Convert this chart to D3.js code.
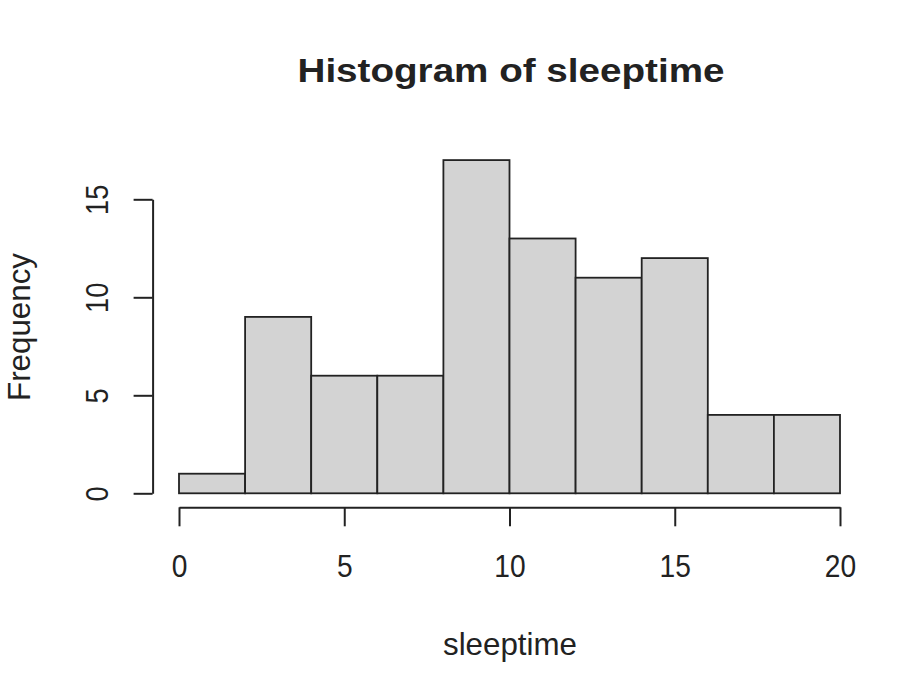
<!DOCTYPE html>
<html>
<head>
<meta charset="utf-8">
<script src="https://cdn.jsdelivr.net/npm/d3@7"></script>
<style>
  body { margin: 0; background: #fff; }
  text { font-family: "Liberation Sans", Arial, sans-serif; fill: #222; }
</style>
</head>
<body>
<svg id="chart" width="907" height="679"></svg>
<script>
// histogram bins of sleeptime (R hist, breaks of 2)
const binStarts = [0, 2, 4, 6, 8, 10, 12, 14, 16, 18];
const binEnds = [2, 4, 6, 8, 10, 12, 14, 16, 18, 20];
const counts = [1, 9, 6, 6, 17, 13, 11, 12, 4, 4];
const xTicks = [0, 5, 10, 15, 20];
const yTicks = [0, 5, 10, 15];

const svg = d3.select("#chart");

const x = d3.scaleLinear().domain([0, 20]).range([179, 840]);
const y = d3.scaleLinear().domain([0, 15]).range([493.3, 199.3]);

// title
svg.append("text")
    .attr("x", 511).attr("y", 82)
    .attr("text-anchor", "middle")
    .style("font-size", "34px").style("font-weight", "bold")
    .attr("textLength", 427).attr("lengthAdjust", "spacingAndGlyphs")
    .text("Histogram of sleeptime");

// bars
svg.append("g").selectAll("rect")
    .data(counts)
    .join("rect")
    .attr("x", (d, i) => x(binStarts[i]))
    .attr("width", (d, i) => x(binEnds[i]) - x(binStarts[i]))
    .attr("y", d => y(d))
    .attr("height", d => y(0) - y(d))
    .attr("fill", "#d3d3d3")
    .attr("stroke", "#222")
    .attr("stroke-width", 1.8);

// x axis at bottom of plot region
const xAxis = svg.append("g")
    .attr("transform", "translate(0,507.3)")
    .call(d3.axisBottom(x).tickValues(xTicks).tickSize(19).tickSizeOuter(0));
xAxis.selectAll("path, line").attr("stroke", "#222").attr("stroke-width", 2);
xAxis.selectAll("text")
    .style("font-size", "32px")
    .attr("dy", 0).attr("y", 70)
    .attr("transform", "scale(0.88,1)");

// y axis at left of plot region
const yAxis = svg.append("g")
    .attr("transform", "translate(152.6,0)")
    .call(d3.axisLeft(y).tickValues(yTicks).tickSize(19).tickSizeOuter(0));
yAxis.selectAll("path, line").attr("stroke", "#222").attr("stroke-width", 2);
yAxis.selectAll("text")
    .style("font-size", "31px")
    .attr("transform", "rotate(-90) scale(0.88,1)")
    .attr("x", 0).attr("dy", 0).attr("y", -45)
    .attr("text-anchor", "middle");

// axis titles
svg.append("text")
    .attr("x", 510).attr("y", 655)
    .attr("text-anchor", "middle")
    .style("font-size", "32px")
    .attr("textLength", 134).attr("lengthAdjust", "spacingAndGlyphs")
    .text("sleeptime");

svg.append("text")
    .attr("transform", "translate(30,327) rotate(-90)")
    .attr("text-anchor", "middle")
    .style("font-size", "31px")
    .attr("textLength", 148).attr("lengthAdjust", "spacingAndGlyphs")
    .text("Frequency");
</script>
</body>
</html>
